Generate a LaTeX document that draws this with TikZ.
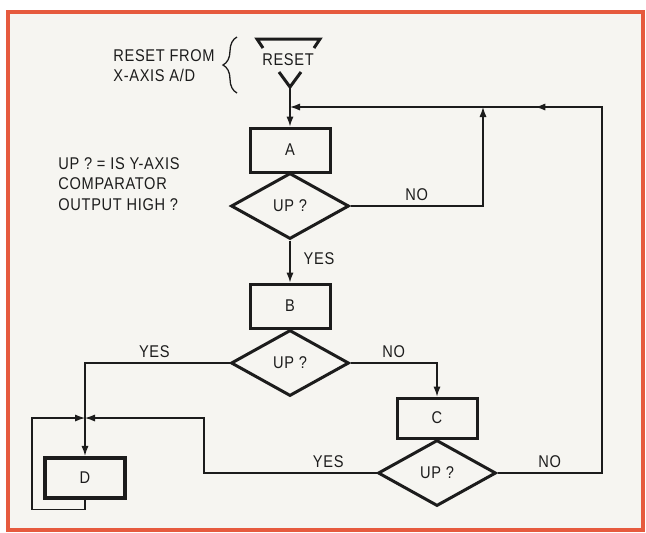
\documentclass[tikz,border=0pt]{standalone}
\usepackage{fontspec}
\setmainfont[FakeStretch=0.86,LetterSpace=4]{Liberation Sans}
\usetikzlibrary{positioning, arrows.meta, shapes.geometric, decorations.pathreplacing, calc}
\definecolor{ink}{HTML}{1C1C1C}
\definecolor{fcframe}{HTML}{E65A3E}
\definecolor{paper}{HTML}{F6F5F1}
\tikzset{
  every node/.style = {font=\fontsize{8.5}{10.2}\selectfont, text=ink},
  fcbox/.style   = {draw=ink, line width=1.5pt, minimum width=40pt, minimum height=22pt, inner sep=0pt},
  fcdec/.style   = {diamond, draw=ink, line width=1.5pt, minimum width=59pt, minimum height=33pt, inner sep=0pt},
  fcline/.style  = {draw=ink, line width=0.65pt},
  fcgo/.style    = {fcline, -{Latex[length=5pt,width=3.6pt]}},
  fclab/.style   = {inner sep=2.5pt},
  fcnote/.style  = {align=left, inner sep=0pt},
  fcterm/.style  = {draw=ink, line width=1.5pt},
}

\begin{document}
\begin{tikzpicture}[x=0.5pt, y=-0.5pt]
\useasboundingbox (0,0) rectangle (646,532);
\draw[fcframe, line width=2pt, fill=paper] (8,12) rectangle (643,530);

% reset terminal and notes
\node (rst) at (288,60) {RESET};
\draw[fcterm] (263,48) -- (257,39) -- (320,39) -- (314,48);
\coordinate (rtip) at (290,87);
\draw[fcterm] (279,72) -- (rtip) -- (301,72);
\node[fcnote, anchor=north west] (src) at (113,49) {RESET FROM\\X-AXIS A/D};
\draw[fcline, decorate, decoration={brace, amplitude=7pt}] (237,93) -- (237,37);
\node[fcnote, anchor=north west] (note) at (58,157) {UP ? = IS Y-AXIS\\COMPARATOR\\OUTPUT HIGH ?};

% steps and tests
\node[fcbox] (boxA) at (290,150) {A};
\node[fcdec] (up1)  at (290,206) {UP ?};
\node[fcbox] (boxB) at (290,306) {B};
\node[fcdec] (up2)  at (290,363) {UP ?};
\node[fcbox, minimum height=20pt] (boxC) at (437,418) {C};
\node[fcdec] (up3)  at (437,473) {UP ?};
\node[fcbox, minimum height=20pt, line width=2.2pt] (boxD) at (85,478) {D};

\coordinate (fbR) at (602,107);
\coordinate (fbJ) at (483,107);
\coordinate (dJ)  at (85,418);
\coordinate (lpL) at (32,418);
\coordinate (yB)  at (204,418);

\draw[fcgo] (rtip) -- (boxA.north);
\draw[fcline] (up3.east) -- node[fclab, above]{NO} (up3.east -| fbR) -- (fbR) -- (fbJ);
\draw[fcgo] (fbR) -- ($(fbR)!0.56!(fbJ)$);
\draw[fcgo] (fbJ) -- (fbJ -| boxA.north);
\draw[fcgo] (up1.east) -- node[fclab, above]{NO} (up1.east -| fbJ) -- (fbJ);
\draw[fcgo] (up1.south) -- node[fclab, right, pos=0.42, xshift=4pt]{YES} (boxB.north);
\draw[fcgo] (up2.west) -- node[fclab, above, pos=0.52]{YES} (up2.west -| dJ) -- (boxD.north);
\draw[fcgo] (up2.east) -- node[fclab, above]{NO} (up2.east -| boxC.north) -- (boxC.north);
\draw[fcgo] (up3.west) -- node[fclab, above, pos=0.28]{YES} (up3.west -| yB) -- (yB) -- (dJ);
\draw[fcgo] (boxD.south) -- ++(0,9) -| (lpL) -- (dJ);
\end{tikzpicture}
\end{document}
